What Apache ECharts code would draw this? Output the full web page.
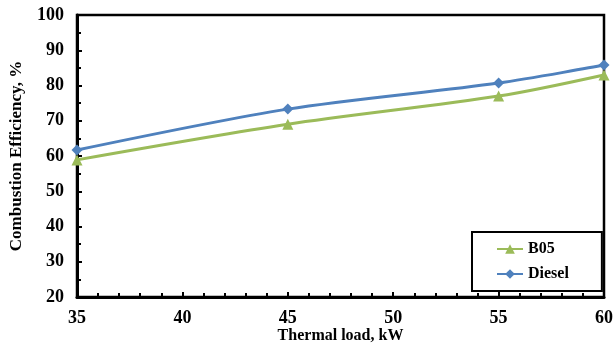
<!DOCTYPE html>
<html><head><meta charset="utf-8">
<script src="https://cdn.jsdelivr.net/npm/echarts@6/dist/echarts.min.js"></script>
<style>html,body{margin:0;padding:0;background:#fff}#c{width:615px;height:347px}</style>
</head><body><div id="c"></div>
<script>
const thermalLoad = [35, 45, 55, 60];
const b05 = [58.9, 69.0, 77.0, 83.0];
const diesel = [61.7, 73.3, 80.7, 85.8];
const xTicks = [35, 40, 45, 50, 55, 60];
const yTicks = [20, 30, 40, 50, 60, 70, 80, 90, 100];

const font = 'Liberation Serif, Times New Roman, serif';
const chart = echarts.init(document.getElementById('c'));
chart.setOption({
  animation: false,
  grid: {left: 77, right: 11, top: 15, bottom: 50, outerBoundsMode: 'none', containLabel: false,
         show: true, borderColor: '#000', borderWidth: 2.5, backgroundColor: 'transparent'},
  xAxis: {
    type: 'value', min: xTicks[0], max: xTicks[xTicks.length - 1], interval: 5,
    name: 'Thermal load, kW', nameLocation: 'middle', nameGap: 31, nameMoveOverlap: false,
    nameTextStyle: {fontFamily: font, fontWeight: 'bold', fontSize: 16, color: '#000'},
    axisLine: {lineStyle: {color: '#000', width: 3}},
    axisTick: {inside: true, length: 5, lineStyle: {color: '#000', width: 2}},
    minorTick: {show: true, splitNumber: 5, length: 4, lineStyle: {color: '#000', width: 2}},
    axisLabel: {fontFamily: font, fontWeight: 'bold', fontSize: 18, color: '#000', margin: 12},
    splitLine: {show: false}
  },
  yAxis: {
    type: 'value', min: yTicks[0], max: yTicks[yTicks.length - 1], interval: 10,
    name: 'Combustion Efficiency, %', nameLocation: 'middle', nameGap: 52, nameMoveOverlap: false,
    nameTextStyle: {fontFamily: font, fontWeight: 'bold', fontSize: 17, color: '#000'},
    axisLine: {show: true, lineStyle: {color: '#000', width: 3}},
    axisTick: {inside: true, length: 5, lineStyle: {color: '#000', width: 2}},
    minorTick: {show: true, splitNumber: 2, length: 4, lineStyle: {color: '#000', width: 2}},
    axisLabel: {fontFamily: font, fontWeight: 'bold', fontSize: 18, color: '#000', margin: 13},
    splitLine: {show: false}
  },
  legend: {
    orient: 'vertical', left: 472, top: 232,
    borderColor: '#000', borderWidth: 2, padding: [9, 33, 9, 24],
    itemGap: 9, itemWidth: 26, itemHeight: 12,
    textStyle: {fontFamily: font, fontWeight: 'bold', fontSize: 16, color: '#000'},
    data: ['B05', 'Diesel']
  },
  series: [
    {name: 'B05', type: 'line', smooth: 0.3, data: thermalLoad.map((x, i) => [x, b05[i]]),
     symbol: 'triangle', symbolSize: 11, lineStyle: {color: '#9BBB59', width: 3},
     itemStyle: {color: '#9BBB59'}},
    {name: 'Diesel', type: 'line', smooth: 0.3, data: thermalLoad.map((x, i) => [x, diesel[i]]),
     symbol: 'diamond', symbolSize: 11, lineStyle: {color: '#4F81BD', width: 3},
     itemStyle: {color: '#4F81BD'}}
  ]
});
</script></body></html>
